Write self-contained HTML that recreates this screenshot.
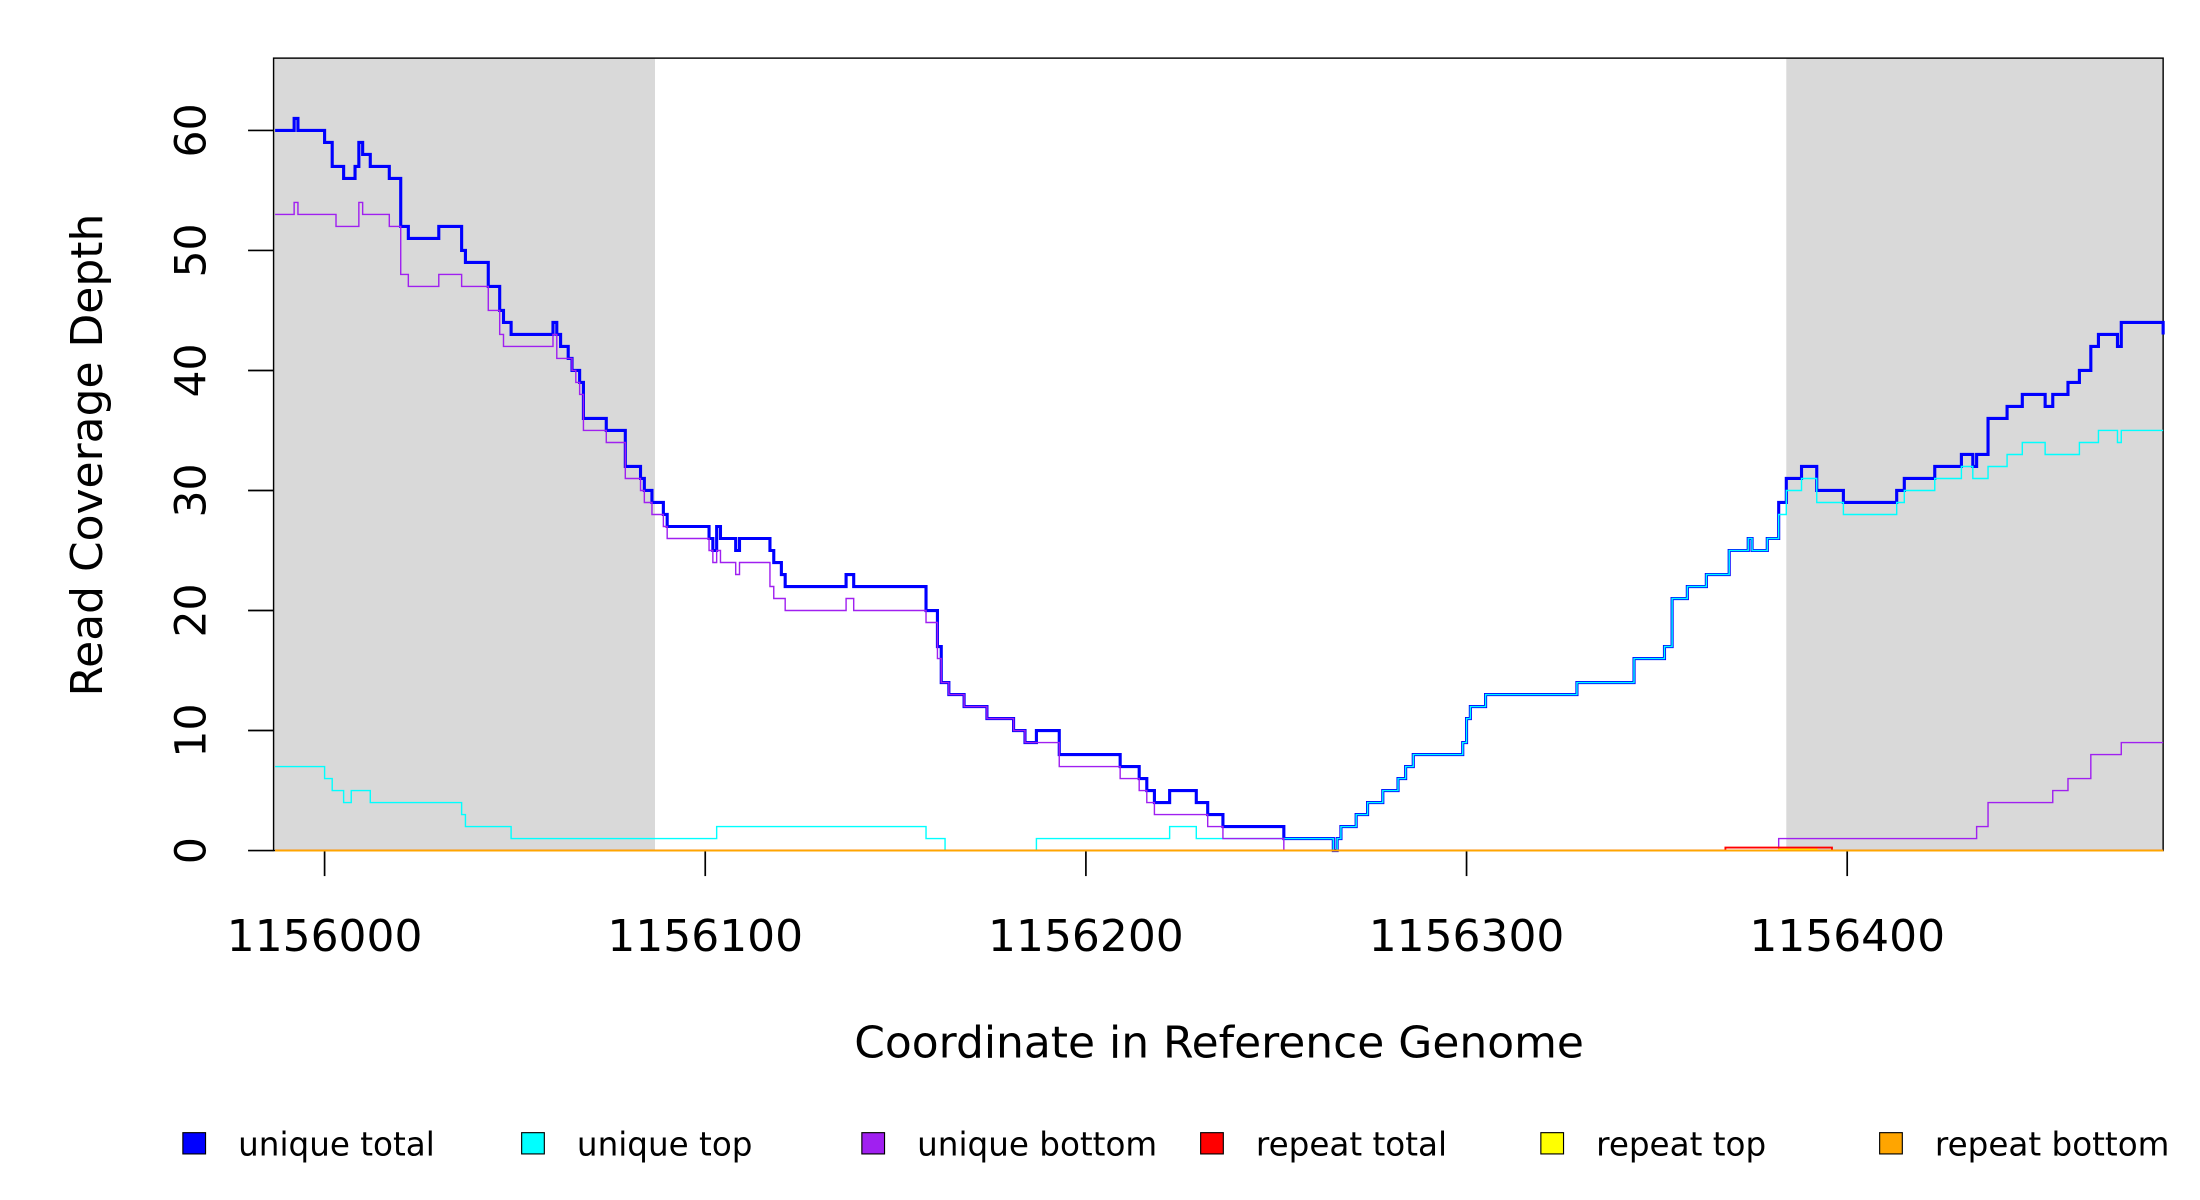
<!DOCTYPE html>
<html><head><meta charset="utf-8"><style>
html,body{margin:0;padding:0;background:#fff;}
svg{display:block;font-family:"DejaVu Sans","Liberation Sans",sans-serif;}
</style></head><body>
<svg id="chart" width="2200" height="1200" viewBox="0 0 1552 846.5" preserveAspectRatio="none" xmlns="http://www.w3.org/2000/svg">
<g id="plot"></g>
<text x="0" y="0" transform="translate(72,321) rotate(-90)" text-anchor="middle" font-size="31">Read Coverage Depth</text>
<text x="860" y="746" text-anchor="middle" font-size="31">Coordinate in Reference Genome</text>
<g id="legend"></g>
</svg>
<script>
const xMin = 1155986.6, xMax = 1156483;
const yMin = 0, yMax = 60;
const xTicks = [1156000, 1156100, 1156200, 1156300, 1156400];
const yTicks = [0, 10, 20, 30, 40, 50, 60];
const shaded = [[1155986.6, 1156086.8], [1156384, 1156483]];
const seriesNames = ["unique total", "unique top", "unique bottom", "repeat total", "repeat top", "repeat bottom"];
const seriesColors = ["#0000ff", "#00ffff", "#a020f0", "#ff0000", "#ffff00", "#ffa500"];

const totalPos = [1155987,1155992,1155993,1156000,1156002,1156005,1156008,1156009,1156010,1156012,1156017,1156020,1156022,1156030,1156036,1156037,1156043,1156046,1156047,1156049,1156060,1156061,1156062,1156064,1156065,1156067,1156068,1156074,1156079,1156083,1156084,1156086,1156089,1156090,1156101,1156102,1156103,1156104,1156108,1156109,1156117,1156118,1156120,1156121,1156137,1156139,1156158,1156161,1156162,1156164,1156168,1156174,1156181,1156184,1156187,1156193,1156209,1156214,1156216,1156218,1156222,1156229,1156232,1156236,1156252,1156265,1156266,1156267,1156271,1156274,1156278,1156282,1156284,1156286,1156299,1156300,1156301,1156305,1156329,1156344,1156352,1156354,1156358,1156363,1156369,1156374,1156375,1156379,1156382,1156384,1156388,1156392,1156399,1156413,1156415,1156423,1156430,1156433,1156434,1156437,1156442,1156446,1156452,1156454,1156458,1156461,1156464,1156466,1156471,1156472,1156483];
const totalVal = [60,61,60,59,57,56,57,59,58,57,56,52,51,52,50,49,47,45,44,43,44,43,42,41,40,39,36,35,32,31,30,29,28,27,26,25,27,26,25,26,25,24,23,22,23,22,20,17,14,13,12,11,10,9,10,8,7,6,5,4,5,4,3,2,1,0,1,2,3,4,5,6,7,8,9,11,12,13,14,16,17,21,22,23,25,26,25,26,29,31,32,30,29,30,31,32,33,32,33,36,37,38,37,38,39,40,42,43,42,44,43];

const topPos = [1155987,1156000,1156002,1156005,1156007,1156012,1156036,1156037,1156049,1156103,1156158,1156163,1156187,1156222,1156229,1156252,1156265,1156266,1156267,1156271,1156274,1156278,1156282,1156284,1156286,1156299,1156300,1156301,1156305,1156329,1156344,1156352,1156354,1156358,1156363,1156369,1156374,1156375,1156379,1156382,1156384,1156388,1156392,1156399,1156413,1156415,1156423,1156430,1156433,1156437,1156442,1156446,1156452,1156461,1156466,1156471,1156472,1156483];
const topVal = [7,6,5,4,5,4,3,2,1,2,1,0,1,2,1,1,0,1,2,3,4,5,6,7,8,9,11,12,13,14,16,17,21,22,23,25,26,25,26,28,30,31,29,28,29,30,31,32,31,32,33,34,33,34,35,34,35,35];

const botPos = [1155987,1155992,1155993,1156003,1156009,1156010,1156017,1156020,1156022,1156030,1156036,1156043,1156046,1156047,1156060,1156061,1156065,1156066,1156067,1156068,1156074,1156079,1156083,1156084,1156086,1156089,1156090,1156101,1156102,1156103,1156104,1156108,1156109,1156117,1156118,1156120,1156121,1156137,1156139,1156158,1156161,1156162,1156164,1156168,1156174,1156181,1156184,1156193,1156209,1156214,1156216,1156218,1156232,1156236,1156252,1156382,1156434,1156437,1156454,1156458,1156464,1156472,1156483];
const botVal = [53,54,53,52,54,53,52,48,47,48,47,45,43,42,43,41,40,39,38,35,34,31,30,29,28,27,26,25,24,25,24,23,24,22,21,21,20,21,20,19,16,14,13,12,11,10,9,7,6,5,4,3,2,1,0,1,2,4,5,6,8,9,9];

const repTotalPos = [1155987,1156368,1156396,1156483];
const repTotalVal = [0,0.25,0,0];
const repTopPos = [1155987,1156382,1156392,1156483];
const repTopVal = [0,0.1,0,0];
const repBotPos = [1155987,1156483];
const repBotVal = [0,0];

const L=193,R=1526,T=41,B=600;
const yZero=600, yPer=(600-92)/60;
function sx(v){return L+(v-xMin)/(xMax-xMin)*(R-L);}
function sy(v){return yZero - v*yPer;}
const NS="http://www.w3.org/2000/svg";
const plot=document.getElementById('plot');
function mk(tag,attrs,parent){const e=document.createElementNS(NS,tag);for(const k in attrs)e.setAttribute(k,attrs[k]);(parent||plot).appendChild(e);return e;}

shaded.forEach(function(s,i){
  const r=mk('rect',{x:sx(s[0]),y:T,width:sx(s[1])-sx(s[0]),height:B-T,fill:'#d9d9d9'});
  
  
});
const frame=mk('rect',{x:L,y:T,width:R-L,height:B-T,fill:'none',stroke:'#000','stroke-width':1});



yTicks.forEach(function(v){
  const y=sy(v);
  const t=mk('line',{x1:175,x2:L,y1:y,y2:y,stroke:'#000','stroke-width':1.2});
  
  
  const lb=mk('text',{transform:'translate(145,'+y+') rotate(-90)','text-anchor':'middle','font-size':30});
  lb.textContent=v;
  
  
});
xTicks.forEach(function(v){
  const x=sx(v);
  const t=mk('line',{x1:x,x2:x,y1:B,y2:618,stroke:'#000','stroke-width':1.2});
  
  
  const lb=mk('text',{x:x,y:671,'text-anchor':'middle','font-size':31});
  lb.textContent=v;
  
  
});

function stepPath(pos,val){
  let d='M'+sx(pos[0])+','+sy(val[0]);
  for(let i=1;i<pos.length;i++){
    d+=' H'+sx(pos[i])+' V'+sy(val[i]);
  }
  return d;
}
const series=[[totalPos,totalVal,2.2],[topPos,topVal,1],[botPos,botVal,1],[repTotalPos,repTotalVal,1.3],[repTopPos,repTopVal,1],[repBotPos,repBotVal,1.3]];
series.forEach(function(s,i){
  const p=mk('path',{d:stepPath(s[0],s[1]),fill:'none',stroke:seriesColors[i],'stroke-width':s[2]});
  
  
});

const legend=document.getElementById('legend');
const legX=[129,368,608,847,1087,1326];
seriesNames.forEach(function(n,i){
  const g=mk('g',{},legend);
  
  
  mk('rect',{x:legX[i],y:799,width:16,height:15,fill:seriesColors[i],stroke:'#000','stroke-width':0.8},g);
  const t=mk('text',{x:legX[i]+39,y:815,'font-size':23},g);
  t.textContent=n;
});
</script>
</body></html>
